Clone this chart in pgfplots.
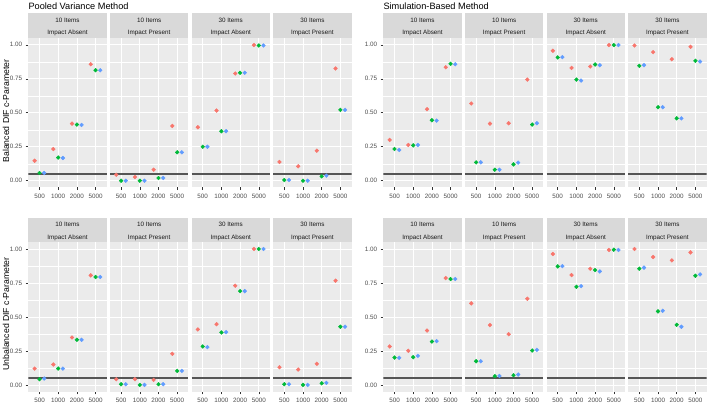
\documentclass[border=0pt]{standalone}
\usepackage{fontspec}
\setmainfont{Liberation Sans}
\usepackage{pgfplots}
\usepackage{pgfplotstable}
\pgfplotsset{compat=1.18}

\definecolor{panelbg}{HTML}{EBEBEB}
\definecolor{stripbg}{HTML}{D9D9D9}
\definecolor{striptext}{HTML}{1A1A1A}
\definecolor{tickgray}{HTML}{333333}
\definecolor{labgray}{HTML}{4D4D4D}
\definecolor{hlgray}{HTML}{555555}
\definecolor{cR}{HTML}{F8766D}
\definecolor{cG}{HTML}{00BA38}
\definecolor{cB}{HTML}{619CFF}

% one table per facet: category index, red, green, blue
% --- Pooled variance, balanced
\pgfplotstableread{
x r g b
1 0.147 0.057 0.057
2 0.233 0.170 0.167
3 0.420 0.413 0.410
4 0.857 0.813 0.813
}\PVbA
\pgfplotstableread{
x r g b
1 0.044 0.000 0.000
2 0.027 0.000 0.000
3 0.081 0.020 0.020
4 0.403 0.209 0.209
}\PVbB
\pgfplotstableread{
x r g b
1 0.393 0.250 0.250
2 0.516 0.364 0.364
3 0.789 0.794 0.794
4 0.998 0.995 0.995
}\PVbC
\pgfplotstableread{
x r g b
1 0.138 0.005 0.005
2 0.106 0.000 0.000
3 0.221 0.032 0.037
4 0.826 0.521 0.521
}\PVbD
% --- Simulation based, balanced
\pgfplotstableread{
x r g b
1 0.300 0.233 0.226
2 0.263 0.260 0.263
3 0.526 0.445 0.442
4 0.835 0.860 0.857
}\SBbA
\pgfplotstableread{
x r g b
1 0.568 0.135 0.135
2 0.420 0.081 0.081
3 0.423 0.120 0.133
4 0.744 0.413 0.423
}\SBbB
\pgfplotstableread{
x r g b
1 0.956 0.907 0.909
2 0.830 0.744 0.737
3 0.840 0.855 0.850
4 0.998 0.998 0.998
}\SBbC
\pgfplotstableread{
x r g b
1 0.995 0.845 0.850
2 0.946 0.541 0.541
3 0.894 0.459 0.459
4 0.985 0.882 0.877
}\SBbD
% --- Pooled variance, unbalanced
\pgfplotstableread{
x r g b
1 0.120 0.042 0.047
2 0.150 0.120 0.120
3 0.349 0.332 0.332
4 0.806 0.794 0.794
}\PVuA
\pgfplotstableread{
x r g b
1 0.042 0.005 0.005
2 0.042 0.000 0.000
3 0.037 0.005 0.005
4 0.229 0.103 0.103
}\PVuB
\pgfplotstableread{
x r g b
1 0.408 0.283 0.278
2 0.447 0.386 0.388
3 0.730 0.690 0.690
4 1.000 1.000 1.000
}\PVuC
\pgfplotstableread{
x r g b
1 0.130 0.005 0.005
2 0.113 0.000 0.000
3 0.155 0.012 0.015
4 0.767 0.428 0.428
}\PVuD
% --- Simulation based, unbalanced
\pgfplotstableread{
x r g b
1 0.283 0.201 0.199
2 0.251 0.204 0.214
3 0.400 0.319 0.322
4 0.786 0.779 0.779
}\SBuA
\pgfplotstableread{
x r g b
1 0.600 0.174 0.174
2 0.440 0.064 0.066
3 0.373 0.071 0.076
4 0.634 0.253 0.258
}\SBuB
\pgfplotstableread{
x r g b
1 0.963 0.872 0.874
2 0.808 0.722 0.727
3 0.855 0.845 0.835
4 0.993 0.995 0.993
}\SBuC
\pgfplotstableread{
x r g b
1 1.000 0.855 0.863
2 0.941 0.541 0.545
3 0.916 0.442 0.428
4 0.975 0.803 0.813
}\SBuD

\pgfplotsset{
  facet/.style={
    anchor=south west, scale only axis,
    width=78.5pt, height=149.5pt,
    xmin=0.4, xmax=4.6, ymin=-0.05, ymax=1.05,
    xtick={1,2,3,4}, xticklabels={500,1000,2000,5000},
    ytick={0,0.25,0.5,0.75,1},
    yticklabels={0.00,0.25,0.50,0.75,1.00},
    minor ytick={0.125,0.375,0.625,0.875},
    grid=both,
    major grid style={white, line width=0.7pt},
    minor grid style={white, line width=0.35pt},
    axis background/.style={fill=panelbg},
    axis line style={draw=none},
    tick pos=left, tick align=outside,
    major tick length=2.75pt, minor tick length=0pt,
    tick style={draw=tickgray, line width=0.5pt},
    ticklabel style={font=\fontsize{6.3}{7}\selectfont, text=labgray},
  },
  noy/.style={yticklabels={}, ytick style={draw=none}},
  pt/.style={only marks, mark=*, mark size=1.9pt},
  hl/.style={color=hlgray, line width=1.3pt},
}

\newcommand{\facet}[6]{%
  \begin{axis}[facet, at={(#1pt,#2pt)}, #6]
    \addplot[hl] coordinates {(0.4,0.05) (4.6,0.05)};
    \addplot[pt, cR] table[x expr=\thisrow{x}-0.26, y=r] {#3};
    \addplot[pt, cG] table[x expr=\thisrow{x}, y=g] {#3};
    \addplot[pt, cB] table[x expr=\thisrow{x}+0.25, y=b] {#3};
  \end{axis}
  \fill[stripbg] (#1pt,#2pt+149.5pt) rectangle ++(78.5pt,24.5pt);
  \node[anchor=base, text=striptext, font=\fontsize{6.3}{7}\selectfont, inner sep=0pt]
    at (#1pt+39.25pt,#2pt+149.5pt+15.2pt) {#4};
  \node[anchor=base, text=striptext, font=\fontsize{6.3}{7}\selectfont, inner sep=0pt]
    at (#1pt+39.25pt,#2pt+149.5pt+3.0pt) {#5};
}

\begin{document}
\begin{tikzpicture}[x=1pt,y=1pt]
\useasboundingbox (0,0) rectangle (709,404);

% top row (balanced)
\facet{28.3}{216.5}{\PVbA}{10 Items}{Impact Absent}{}
\facet{109.9}{216.5}{\PVbB}{10 Items}{Impact Present}{noy}
\facet{191.5}{216.5}{\PVbC}{30 Items}{Impact Absent}{noy}
\facet{273.1}{216.5}{\PVbD}{30 Items}{Impact Present}{noy}
\facet{383.3}{216.5}{\SBbA}{10 Items}{Impact Absent}{}
\facet{464.9}{216.5}{\SBbB}{10 Items}{Impact Present}{noy}
\facet{546.5}{216.5}{\SBbC}{30 Items}{Impact Absent}{noy}
\facet{628.1}{216.5}{\SBbD}{30 Items}{Impact Present}{noy}

% bottom row (unbalanced)
\facet{28.3}{12.3}{\PVuA}{10 Items}{Impact Absent}{}
\facet{109.9}{12.3}{\PVuB}{10 Items}{Impact Present}{noy}
\facet{191.5}{12.3}{\PVuC}{30 Items}{Impact Absent}{noy}
\facet{273.1}{12.3}{\PVuD}{30 Items}{Impact Present}{noy}
\facet{383.3}{12.3}{\SBuA}{10 Items}{Impact Absent}{}
\facet{464.9}{12.3}{\SBuB}{10 Items}{Impact Present}{noy}
\facet{546.5}{12.3}{\SBuC}{30 Items}{Impact Absent}{noy}
\facet{628.1}{12.3}{\SBuD}{30 Items}{Impact Present}{noy}

% titles and y labels
\node[anchor=base west, inner sep=0pt, font=\fontsize{9.2}{11}\selectfont] at (28.3,394.7) {Pooled Variance Method};
\node[anchor=base west, inner sep=0pt, font=\fontsize{9.2}{11}\selectfont] at (383.3,394.7) {Simulation-Based Method};
\node[rotate=90, inner sep=0pt, font=\fontsize{8.7}{10}\selectfont] at (6,293) {Balanced DIF c-Parameter};
\node[rotate=90, inner sep=0pt, font=\fontsize{8.7}{10}\selectfont] at (6,90) {Unbalanced DIF c-Parameter};
\end{tikzpicture}
\end{document}
